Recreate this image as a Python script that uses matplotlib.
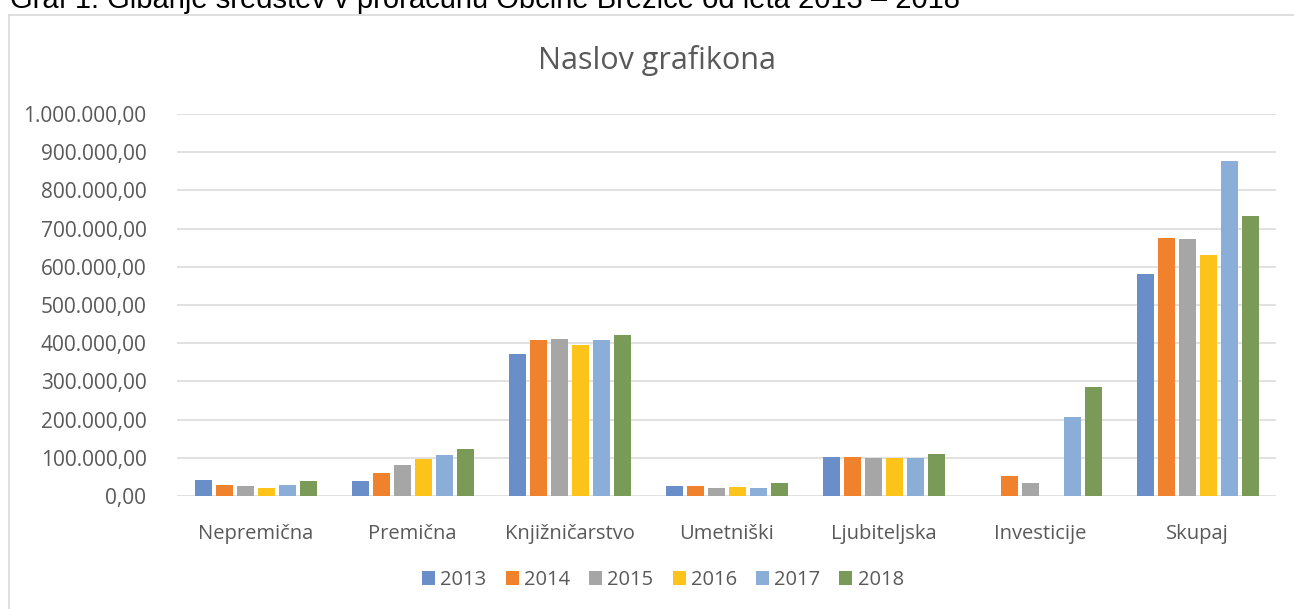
#!/usr/bin/env python3
"""Gibanje sredstev 2013-2018, stolpčni graf v slogu Excela."""

import matplotlib

matplotlib.use("Agg")
import matplotlib.pyplot as plt
import numpy as np
from matplotlib.lines import Line2D
from matplotlib.patches import Patch
from matplotlib.ticker import FuncFormatter

CATEGORIES = ["Nepremična", "Premična", "Knjižničarstvo", "Umetniški",
              "Ljubiteljska", "Investicije", "Skupaj"]
YEARS = ["2013", "2014", "2015", "2016", "2017", "2018"]

V2013 = [42000, 38000, 372000, 25000, 102000, 0, 580000]
V2014 = [28000, 60000, 408000, 25000, 102000, 53000, 675000]
V2015 = [25000, 80000, 410000, 22000, 100000, 35000, 672000]
V2016 = [20000, 97000, 395000, 23000, 100000, 0, 632000]
V2017 = [28000, 108000, 408000, 22000, 100000, 207000, 877000]
V2018 = [40000, 123000, 422000, 34000, 110000, 286000, 732000]
SERIES = [V2013, V2014, V2015, V2016, V2017, V2018]

COLORS = ["#6A8FC8", "#F0822E", "#A6A6A6", "#FCC31A", "#8AAED8", "#7A9B58"]
TEXT = "#595959"
GRID = "#D9D9D9"
FONT = ["Open Sans", "DejaVu Sans"]

W, H = 1294, 609


def fmt(v, _pos):
    s = f"{v:,.2f}"
    return s.replace(",", "X").replace(".", ",").replace("X", ".")


def main():
    plt.rcParams["font.family"] = FONT
    fig = plt.figure(figsize=(W / 100, H / 100), dpi=100)

    # napis slike, na vrhu odrezan kot v izvirniku
    fig.text(10 / W, 1 - 8 / H,
             "Graf 1: Gibanje sredstev v proračunu Občine Brežice od leta 2013 – 2018",
             ha="left", va="baseline", fontsize=21, color="black",
             family=["Liberation Sans", "DejaVu Sans"])

    # okvir grafikona (viden le levi in zgornji rob)
    fig.add_artist(Line2D([9 / W, 9 / W], [0, 1 - 15 / H], transform=fig.transFigure,
                          color=GRID, lw=1.2))
    fig.add_artist(Line2D([9 / W, 1], [1 - 15 / H, 1 - 15 / H], transform=fig.transFigure,
                          color=GRID, lw=1.2))

    left, right = 177 / W, 1276 / W
    bottom, top = 1 - 496 / H, 1 - 114 / H
    ax = fig.add_axes([left, bottom, right - left, top - bottom])

    x = np.arange(len(CATEGORIES))
    pitch = 21 / 157
    width = 17 / 157
    for i, (vals, col) in enumerate(zip(SERIES, COLORS)):
        ax.bar(x + (i - 2.5) * pitch, vals, width=width, color=col, zorder=3)

    ax.set_xlim(-0.5, len(CATEGORIES) - 0.5)
    ax.set_ylim(0, 1_000_000)
    ax.set_yticks(np.arange(0, 1_000_001, 100_000))
    ax.yaxis.set_major_formatter(FuncFormatter(fmt))
    ax.set_xticks(x)
    ax.set_xticklabels(CATEGORIES)
    ax.tick_params(axis="both", length=0, colors=TEXT, labelsize=14.5)
    ax.tick_params(axis="y", labelsize=15, pad=22)
    ax.tick_params(axis="x", pad=20)
    ax.grid(axis="y", color=GRID, lw=1.1, zorder=0)
    for sp in ax.spines.values():
        sp.set_visible(False)

    fig.text(657 / W, 1 - 60 / H, "Naslov grafikona", ha="center", va="center",
             fontsize=22, color=TEXT)

    handles = [Patch(facecolor=c, edgecolor="none") for c in COLORS]
    fig.legend(handles, YEARS, loc="center", bbox_to_anchor=(663 / W, 1 - 580 / H),
               ncol=6, frameon=False, fontsize=14.5, labelcolor=TEXT,
               handlelength=0.65, handleheight=0.65, handletextpad=0.25,
               columnspacing=0.95)

    fig.savefig("out.png", dpi=100)


if __name__ == "__main__":
    main()
